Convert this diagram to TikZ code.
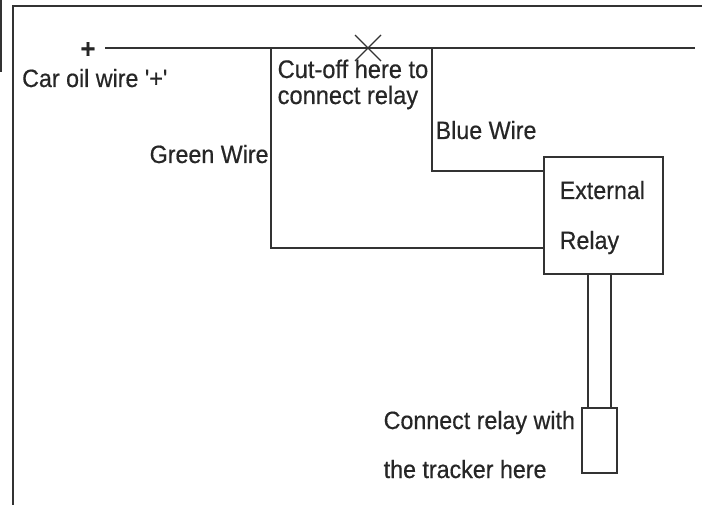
\documentclass[tikz,border=0pt]{standalone}
\usepackage{fontspec}
\setmainfont[FakeStretch=0.93,FakeBold=0.5,Ligatures=TeXOff]{Liberation Sans}
\usetikzlibrary{positioning}
\definecolor{wirecol}{gray}{0.2}
\tikzstyle{box} = [rectangle, draw=wirecol, line width=2.2pt, inner sep=0pt]
\tikzstyle{wire} = [draw=wirecol, line width=2.2pt]
\tikzstyle{label} = [inner sep=0pt, text=black!85, font=\fontsize{25}{27}\selectfont, anchor=base west]

\begin{document}
\begin{tikzpicture}[x=1pt, y=-1pt]
        \useasboundingbox (0,0) rectangle (702,505);

        % Nodes
        \node [box, minimum width=119pt, minimum height=117pt] (relay) at (603.5,215.5) {};
        \node [box, minimum width=35pt, minimum height=65pt] (tracker) at (599.5,440.5) {};
        \coordinate (frameend) at (702,6);
        \coordinate (framecorner) at (13,6);
        \coordinate (framebottom) at (13,505);
        \coordinate (edgetop) at (1,0);
        \coordinate (edgebottom) at (1,72);
        \coordinate (oilstart) at (105,48);
        \coordinate (oilend) at (695,48);
        \coordinate (greentop) at (271,48);
        \coordinate (greenturn) at (271,248);
        \coordinate (greenend) at (544,248);
        \coordinate (bluetop) at (432,48);
        \coordinate (blueturn) at (432,171);
        \coordinate (blueend) at (544,171);
        \coordinate (leftout) at (588,274);
        \coordinate (leftin) at (588,408);
        \coordinate (rightout) at (611,274);
        \coordinate (rightin) at (611,408);
        \coordinate (cutnw) at (355,35);
        \coordinate (cutse) at (381,61);
        \coordinate (cutne) at (381,35);
        \coordinate (cutsw) at (355,61);

        % Labels
        \node [inner sep=0pt, text=black!85, font=\fontsize{27}{27}\selectfont\bfseries] (plus) at (88,50) {+};
        \node [label] (oil) at (22,87) {Car oil wire '+'};
        \node [label, font=\fontsize{25.4}{27}\selectfont] (cut) at (277.5,78) {Cut-off here to};
        \node [label, font=\fontsize{25.4}{27}\selectfont] (conn) at (277.5,104) {connect relay};
        \node [label] (green) at (149.5,163) {Green Wire};
        \node [label] (blue) at (435.5,139) {Blue Wire};
        \node [label] (ext) at (559.5,199) {External};
        \node [label] (rel) at (559.5,249) {Relay};
        \node [label] (with) at (383.5,429) {Connect relay with};
        \node [label] (here) at (383.5,478) {the tracker here};

        % Wires
        \path [wire] (framebottom) -- (framecorner) -- (frameend);
        \path [wire] (edgetop) -- (edgebottom);
        \path [wire] (oilstart) -- (oilend);
        \path [wire] (greentop) -- (greenturn) -- (greenend);
        \path [wire] (bluetop) -- (blueturn) -- (blueend);
        \path [wire] (leftout) -- (leftin);
        \path [wire] (rightout) -- (rightin);
        \path [wire, line width=1.4pt] (cutnw) -- (cutse);
        \path [wire, line width=1.4pt] (cutne) -- (cutsw);
    \end{tikzpicture}
\end{document}
